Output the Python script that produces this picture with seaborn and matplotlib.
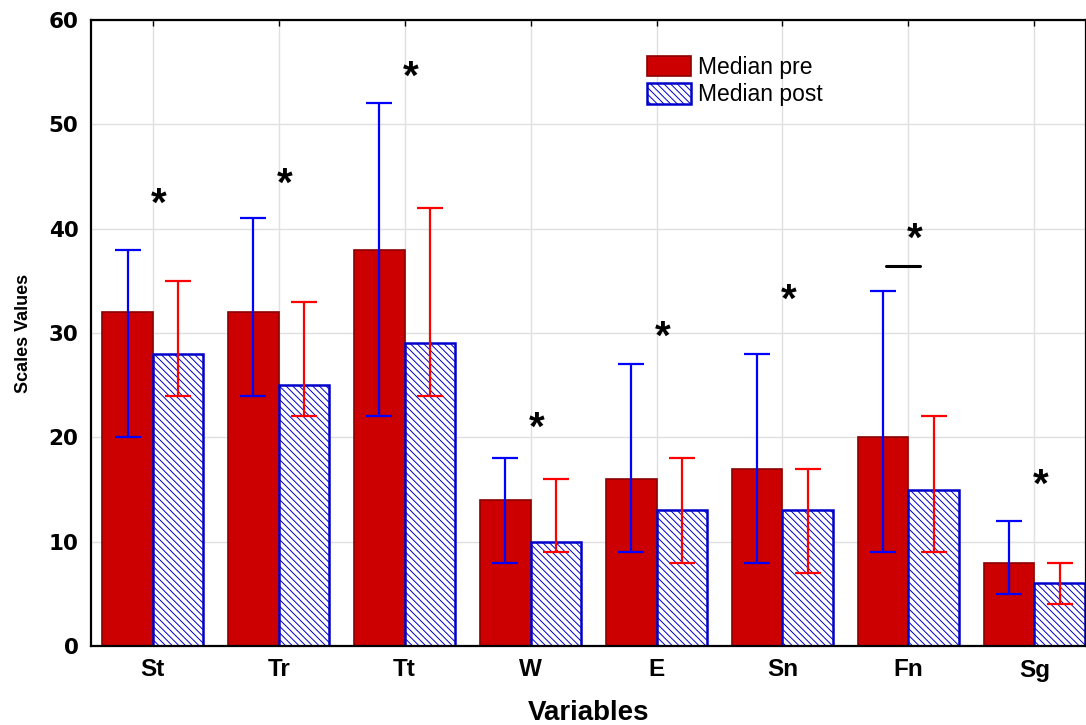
import numpy as np
import pandas as pd
import matplotlib
matplotlib.use("Agg")
import matplotlib.pyplot as plt
import seaborn as sns

# ---- data ----
categories = ['St', 'Tr', 'Tt', 'W', 'E', 'Sn', 'Fn', 'Sg']
pre = [32, 32, 38, 14, 16, 17, 20, 8]
post = [28, 25, 29, 10, 13, 13, 15, 6]
pre_low = [20, 24, 22, 8, 9, 8, 9, 5]
pre_high = [38, 41, 52, 18, 27, 28, 34, 12]
post_low = [24, 22, 24, 9, 8, 7, 9, 4]
post_high = [35, 33, 42, 16, 18, 17, 22, 8]
star_y = [42.3, 44.2, 54.5, 20.8, 29.5, 33.1, 38.9, 15.4]
dash_cat = 'Fn'
dash_y = 36.4
series_names = ['Median pre', 'Median post']
yticks = [0, 10, 20, 30, 40, 50, 60]

sns.set_theme(style='white')
plt.rcParams['font.family'] = ['Liberation Sans', 'DejaVu Sans']
plt.rcParams['hatch.color'] = '#2a2ae0'
plt.rcParams['hatch.linewidth'] = 0.7
for k in ['text.color', 'axes.labelcolor', 'xtick.color', 'ytick.color']:
    plt.rcParams[k] = 'black'

df = pd.DataFrame({
    'Variable': categories * 2,
    'Series': [series_names[0]] * len(categories) + [series_names[1]] * len(categories),
    'Value': pre + post,
})

fig = plt.figure(figsize=(10.86, 7.25), dpi=100)
ax = fig.add_axes([91 / 1086, 79 / 725, 995 / 1086, 626 / 725])

sns.barplot(data=df, x='Variable', y='Value', hue='Series', order=categories,
            hue_order=series_names,
            palette={series_names[0]: '#CC0000', series_names[1]: 'white'},
            width=0.8, saturation=1, errorbar=None, ax=ax, legend=False, zorder=2)

for bar in ax.containers[0]:
    bar.set_edgecolor('#8B0000')
    bar.set_linewidth(1.2)
for bar in ax.containers[1]:
    bar.set_facecolor('white')
    bar.set_edgecolor('#0000CC')
    bar.set_hatch('\\\\\\\\\\')
    bar.set_linewidth(1.8)

xs_pre = [b.get_x() + b.get_width() / 2 for b in ax.containers[0]]
xs_post = [b.get_x() + b.get_width() / 2 for b in ax.containers[1]]
pre_a, post_a = np.array(pre), np.array(post)
ax.errorbar(xs_pre, pre_a, yerr=[pre_a - np.array(pre_low), np.array(pre_high) - pre_a],
            fmt='none', ecolor='#0000FF', elinewidth=1.6, capsize=9.5, capthick=1.6, zorder=4)
ax.errorbar(xs_post, post_a, yerr=[post_a - np.array(post_low), np.array(post_high) - post_a],
            fmt='none', ecolor='#FF0000', elinewidth=1.6, capsize=9.5, capthick=1.6, zorder=4)

for i, yv in enumerate(star_y):
    ax.text(i + 0.05, yv, '*', ha='center', va='center', fontsize=29,
            fontweight='bold', color='black', zorder=5)

di = categories.index(dash_cat)
ax.plot([di - 0.18, di + 0.09], [dash_y, dash_y], color='black', lw=2.2, zorder=5)

ax.set_xlim(-0.49, 7.41)
ax.set_ylim(0, 60)
ax.set_yticks(yticks)
ax.grid(True, color='#e0e0e0', lw=1)
ax.set_axisbelow(True)

for s in ax.spines.values():
    s.set_visible(True)
    s.set_color('black')
    s.set_linewidth(1.6)

ax.tick_params(axis='x', direction='in', length=4, width=1, color='black', top=True,
               pad=9, labelsize=17.5)
ax.tick_params(axis='y', direction='in', length=4, width=1, color='black', right=False,
               pad=9, labelsize=15.5)
for lab in ax.get_xticklabels():
    lab.set_fontweight('bold')
for lab in ax.get_yticklabels():
    lab.set_fontweight('bold')
    lab.set_family(['DejaVu Sans'])

ax.set_xlabel('Variables', fontsize=20, fontweight='bold', labelpad=13)
ax.set_ylabel('Scales Values', fontsize=13, fontweight='bold', labelpad=12)

ax.legend(ax.containers[:2], series_names, loc='upper left',
          bbox_to_anchor=(0.559, 0.943), frameon=False, borderpad=0, borderaxespad=0,
          fontsize=16.5, handlelength=1.9, handleheight=1.0, handletextpad=0.33,
          labelspacing=0.2)

fig.savefig('out.png', dpi=100)
